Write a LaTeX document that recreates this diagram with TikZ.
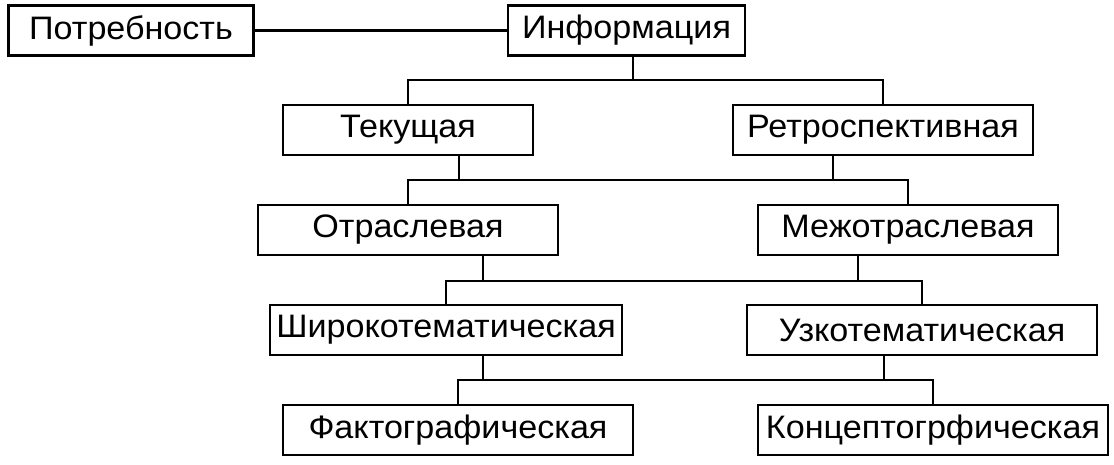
\documentclass[tikz,border=0pt]{standalone}
\usepackage{fontspec}
\setmainfont{Liberation Sans}[FakeStretch=1.05]
\begin{document}
\begin{tikzpicture}[x=1pt,y=-1pt,
  box/.style={draw, line width=2.8pt, inner sep=0pt, minimum height=50pt,
    font=\fontsize{32.5}{36}\selectfont},
  conn/.style={line width=2.8pt}]
\useasboundingbox[fill=white] (0,0) rectangle (1114,464);
\node[box, minimum width=245pt] (pot)  at (131,30.5)  {Потребность};
\node[box, minimum width=237pt] (inf)  at (626.5,30.5){Информация};
\node[box, minimum width=250pt] (tek)  at (408,130)   {Текущая};
\node[box, minimum width=300pt] (ret)  at (883,130)   {Ретроспективная};
\node[box, minimum width=300pt] (otr)  at (408,230)   {Отраслевая};
\node[box, minimum width=300pt] (mezh) at (908,230)   {Межотраслевая};
\node[box, minimum width=352pt] (shir) at (446,330)   {Широкотематическая};
\node[box, minimum width=350pt] (uzk)  at (922,330)   {Узкотематическая};
\node[box, minimum width=350pt] (fakt) at (458,430)   {Фактографическая};
\node[box, minimum width=350pt] (konc) at (933,430)   {Концептогрфическая};
\draw[conn] (pot) -- (inf);
\coordinate (b1) at (633,80);
\draw[conn] (inf.south -| b1) -- (b1);
\draw[conn] (tek.north) |- (b1) -| (ret.north);
\coordinate (b2) at (459,180);
\coordinate (b2r) at (833,180);
\draw[conn] (tek.south -| b2) -- (b2);
\draw[conn] (ret.south -| b2r) -- (b2r);
\draw[conn] (otr.north) |- (b2) -| (mezh.north);
\coordinate (b3) at (483,281);
\coordinate (b3r) at (858,281);
\draw[conn] (otr.south -| b3) -- (b3);
\draw[conn] (mezh.south -| b3r) -- (b3r);
\draw[conn] (shir.north) |- (b3) -| (uzk.north);
\coordinate (b4) at (483,380);
\coordinate (b4r) at (884,380);
\draw[conn] (shir.south -| b4) -- (b4);
\draw[conn] (uzk.south -| b4r) -- (b4r);
\draw[conn] (fakt.north) |- (b4) -| (konc.north);
\end{tikzpicture}
\end{document}
